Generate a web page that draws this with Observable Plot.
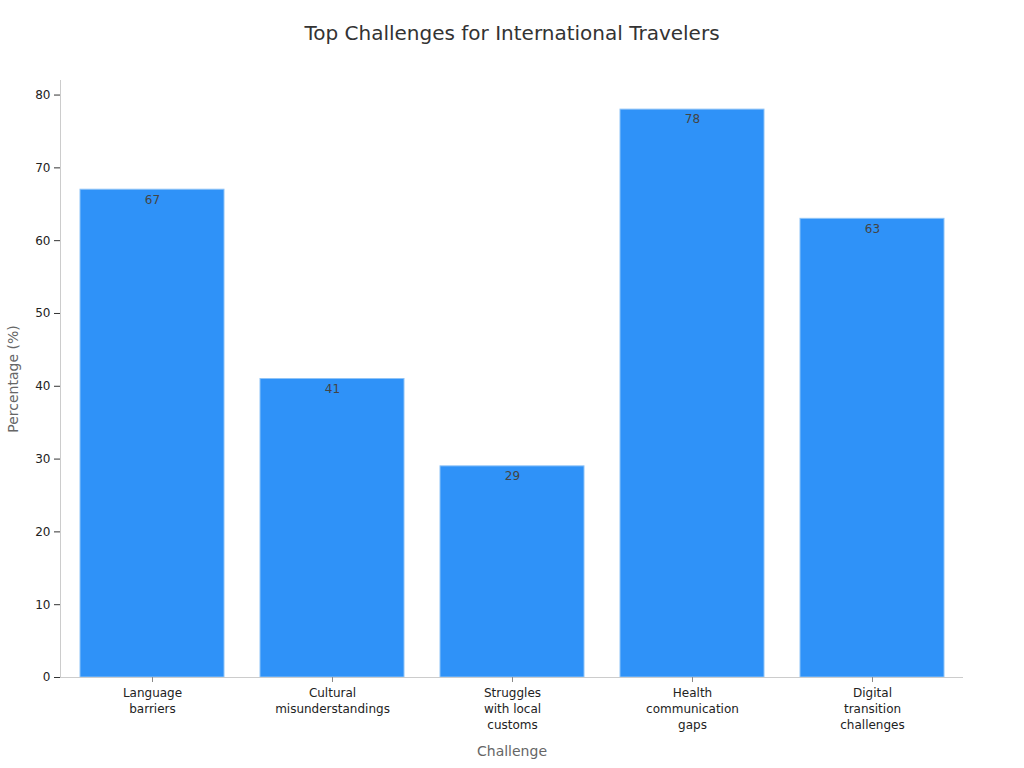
<!DOCTYPE html>
<html>
<head>
<meta charset="utf-8">
<script src="https://cdn.jsdelivr.net/npm/d3@7"></script>
<script src="https://cdn.jsdelivr.net/npm/@observablehq/plot@0.6"></script>
<style>
  html, body { margin: 0; padding: 0; background: #fff; }
  #title { height: 64px; line-height: 66px; text-align: center; font-family: "DejaVu Sans", sans-serif; font-size: 20px; color: #333; }
</style>
</head>
<body>
<div id="title">Top Challenges for International Travelers</div>
<div id="chart"></div>
<script>
const categories = ["Language\nbarriers", "Cultural\nmisunderstandings", "Struggles\nwith local\ncustoms", "Health\ncommunication\ngaps", "Digital\ntransition\nchallenges"];
const values = [67, 41, 29, 78, 63];
const yTicks = [0, 10, 20, 30, 40, 50, 60, 70, 80];
const xTitle = "Challenge";
const yTitle = "Percentage (%)";

const data = categories.map((c, i) => ({challenge: c, value: values[i]}));

const chart = Plot.plot({
  width: 1024,
  height: 704,
  marginTop: 16,
  marginBottom: 91,
  marginLeft: 60,
  marginRight: 61,
  style: {fontFamily: "DejaVu Sans, sans-serif", fontSize: "12px", color: "#222", background: "#fff"},
  x: {domain: categories, paddingInner: 0.2, paddingOuter: 0.1},
  y: {domain: [0, 82]},
  marks: [
    Plot.barY(data, {x: "challenge", y: "value", fill: "#2f92f8", stroke: "#8ec3f7", strokeWidth: 1}),
    Plot.text(data, {x: "challenge", y: "value", text: d => String(d.value), dy: 10, fill: "#444", fontSize: 12}),
    Plot.ruleY([0], {stroke: "#ccc", strokeWidth: 1}),
    Plot.frame({anchor: "left", stroke: "#ccc"}),
    Plot.axisY({ticks: yTicks, tickSize: 6, tickPadding: 4, stroke: "#333", fill: "#222", fontSize: 12, label: null}),
    Plot.axisX({tickSize: 5, stroke: "#888", tickPadding: 3, fill: "#222", fontSize: 12, lineHeight: 1.33, label: null}),
    Plot.text([xTitle], {text: d => d, frameAnchor: "bottom", dy: 78, fill: "#666", fontSize: 14}),
    Plot.text([yTitle], {text: d => d, frameAnchor: "left", textAnchor: "middle", dx: -47, rotate: -90, fill: "#666", fontSize: 14})
  ]
});
document.getElementById("chart").appendChild(chart);
</script>
</body>
</html>
